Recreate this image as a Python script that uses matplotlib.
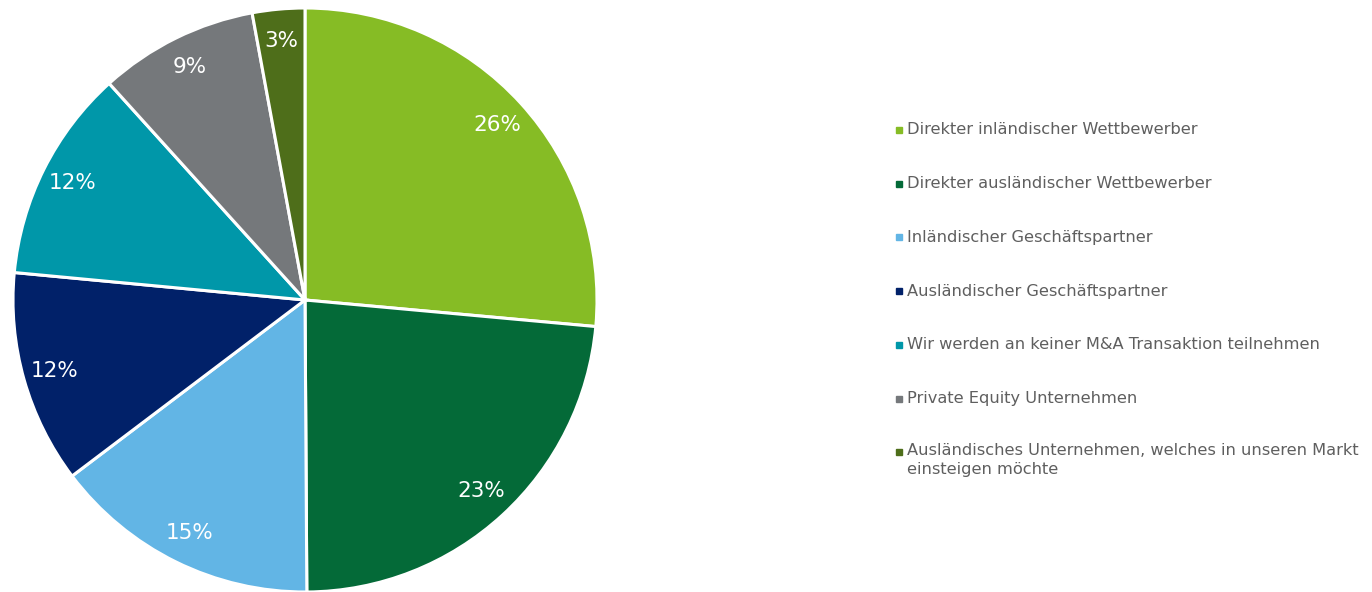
import matplotlib
matplotlib.use("Agg")
import matplotlib.pyplot as plt

# data
labels = [
    "Direkter inländischer Wettbewerber",
    "Direkter ausländischer Wettbewerber",
    "Inländischer Geschäftspartner",
    "Ausländischer Geschäftspartner",
    "Wir werden an keiner M&A Transaktion teilnehmen",
    "Private Equity Unternehmen",
    "Ausländisches Unternehmen, welches in unseren Markt\neinsteigen möchte",
]
values = [26.45, 23.45, 14.8, 11.8, 11.8, 8.8, 2.9]
colors = ["#86BC25", "#046A38", "#62B5E5", "#012169", "#0097A9", "#75787B", "#4E6E1A"]

W, H = 1372, 592
fig = plt.figure(figsize=(W / 100, H / 100), dpi=100)

# pie axes: centre (305, 300) px, radius 292 px
cx, cy, r = 305, 300, 292
ax = fig.add_axes([(cx - r) / W, (H - cy - r) / H, 2 * r / W, 2 * r / H])
wedges, texts, autotexts = ax.pie(
    values, colors=colors, startangle=90, counterclock=False,
    autopct=lambda p: f"{p:.0f}%", pctdistance=0.89,
    wedgeprops=dict(edgecolor="white", linewidth=2.2),
    textprops=dict(color="white", fontsize=15.5),
)
for w in wedges:
    w.set_clip_on(False)
ax.set_xlim(-1, 1)
ax.set_ylim(-1, 1)
ax.set_aspect("equal")
ax.axis("off")

# legend, drawn by hand
top_y = 130
step = 53.7
for i, (lab, col) in enumerate(zip(labels, colors)):
    y = top_y + i * step
    fig.patches.append(plt.Rectangle((896 / W, (H - y - 3) / H), 6 / W, 6 / H,
                                     transform=fig.transFigure, color=col))
    if "\n" in lab:
        fig.text(907 / W, (H - y + 9) / H, lab, fontsize=11.7, color="#5f5f5f",
                 ha="left", va="top", linespacing=1.3)
    else:
        fig.text(907 / W, (H - y) / H, lab, fontsize=11.7, color="#5f5f5f",
                 ha="left", va="center")

fig.savefig("out.png", dpi=100)
